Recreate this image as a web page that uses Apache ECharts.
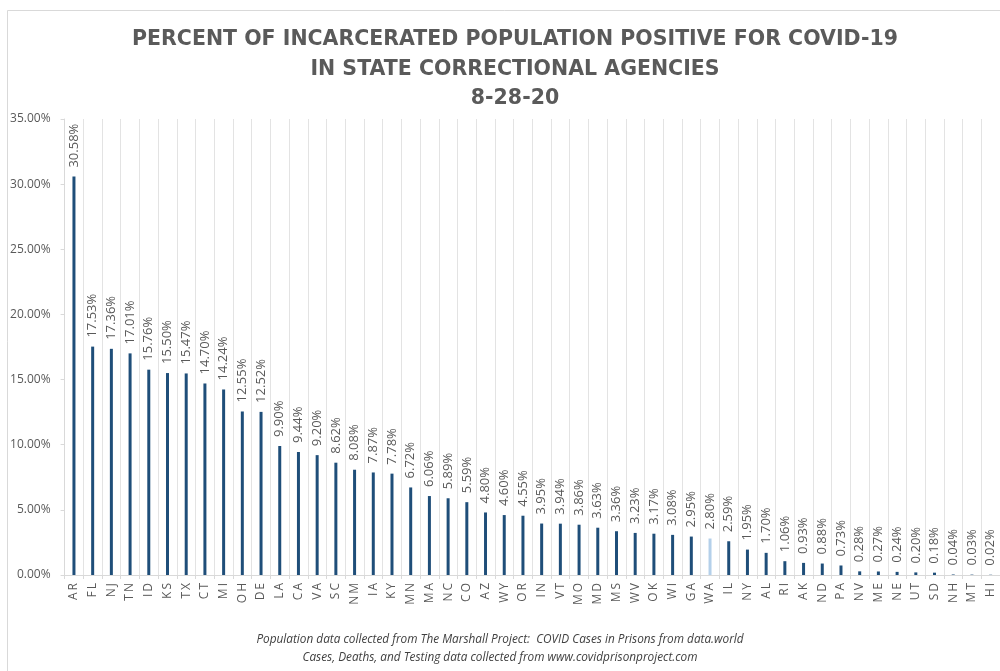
<!DOCTYPE html>
<html>
<head>
<meta charset="utf-8">
<script src="https://cdn.jsdelivr.net/npm/echarts@6/dist/echarts.min.js"></script>
<style>
html, body { margin: 0; padding: 0; background: #fff; }
#main { width: 1000px; height: 671px; }
</style>
</head>
<body>
<div id="main"></div>
<script>
var states = ['AR','FL','NJ','TN','ID','KS','TX','CT','MI','OH','DE','LA','CA','VA','SC','NM','IA','KY','MN','MA',
    'NC','CO','AZ','WY','OR','IN','VT','MO','MD','MS','WV','OK','WI','GA','WA','IL','NY','AL','RI','AK',
    'ND','PA','NV','ME','NE','UT','SD','NH','MT','HI'];
var pctPositive = [30.58,17.53,17.36,17.01,15.76,15.50,15.47,14.70,14.24,12.55,12.52,9.90,9.44,9.20,8.62,8.08,7.87,7.78,6.72,6.06,
    5.89,5.59,4.80,4.60,4.55,3.95,3.94,3.86,3.63,3.36,3.23,3.17,3.08,2.95,2.80,2.59,1.95,1.70,1.06,0.93,
    0.88,0.73,0.28,0.27,0.24,0.20,0.18,0.04,0.03,0.02];
var highlight = 'WA';

var titleLines = ['PERCENT OF INCARCERATED POPULATION POSITIVE FOR COVID-19', 'IN STATE CORRECTIONAL AGENCIES', '8-28-20'];
var footLines = ['Population data collected from The Marshall Project:  COVID Cases in Prisons from data.world',
    'Cases, Deaths, and Testing data collected from www.covidprisonproject.com'];

var gray = '#595959';
var chart = echarts.init(document.getElementById('main'));

var barData = pctPositive.map(function (v, i) {
    return {
        value: v,
        itemStyle: { color: states[i] === highlight ? '#b4d0ea' : '#1f4e79' }
    };
});

chart.setOption({
    backgroundColor: '#fff',
    animation: false,
    textStyle: { fontFamily: 'Open Sans' },
    graphic: [
        { type: 'rect', left: 5, top: 8, shape: { width: 1010, height: 700 },
          style: { fill: 'none', stroke: '#d9d9d9', lineWidth: 1 }, silent: true },
        { type: 'text', left: 'center', top: 631,
          style: { text: footLines.join('\n'), fill: '#404040', font: 'italic 11.8px "Open Sans"',
                   textAlign: 'center', lineHeight: 18 } }
    ],
    title: {
        text: titleLines.join('\n'),
        left: 510, textAlign: 'center', top: 20,
        textStyle: { fontFamily: 'DejaVu Sans', fontWeight: 'bold', fontSize: 20.5, color: '#5a5a5a', lineHeight: 29.5 }
    },
    grid: { left: 64.6, width: 937.5, top: 119, bottom: 96 },
    xAxis: {
        type: 'category',
        data: states,
        axisLine: { lineStyle: { color: '#d9d9d9' } },
        axisTick: { show: true, interval: 0, length: 4, lineStyle: { color: '#d9d9d9' } },
        splitLine: { show: true, interval: 0, lineStyle: { color: '#e3e3e3' } },
        axisLabel: {
            interval: 0, rotate: 90, margin: 8, color: gray, fontSize: 12,
            formatter: function (v) { return v.split('').join('\u2009'); }
        }
    },
    yAxis: {
        type: 'value',
        min: 0, max: 35, interval: 5,
        axisLine: { show: true, lineStyle: { color: '#d9d9d9' } },
        axisTick: { show: true, length: 4, lineStyle: { color: '#d9d9d9' } },
        splitLine: { show: false },
        axisLabel: {
            color: gray, fontSize: 12, margin: 14,
            formatter: function (v) { return v.toFixed(2) + '%'; }
        }
    },
    series: [{
        type: 'bar',
        data: barData,
        barWidth: 3,
        label: {
            show: true, position: 'top', rotate: 90, distance: 9,
            align: 'left', verticalAlign: 'middle',
            color: gray, fontSize: 13,
            formatter: function (p) { return p.value.toFixed(2) + '%'; }
        }
    }]
});
</script>
</body>
</html>
